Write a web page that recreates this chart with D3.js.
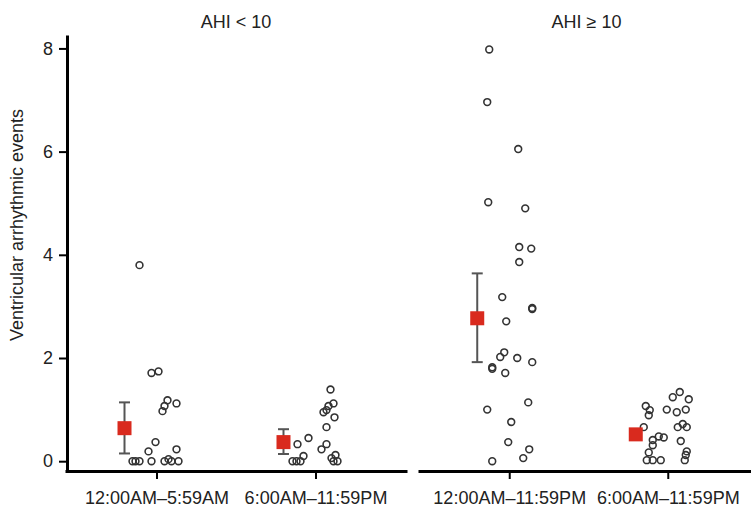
<!DOCTYPE html>
<html>
<head>
<meta charset="utf-8">
<script src="https://cdn.jsdelivr.net/npm/d3@7"></script>
<style>
    body { margin: 0; background: #fff; }
    #chart text { font-family: "Liberation Sans", Arial, Helvetica, sans-serif; fill: #222; }
</style>
</head>
<body>
<div id="chart"></div>
<script>
// panel titles and x categories
var panelTitles = ["AHI < 10", "AHI \u2265 10"];
var lowAhiPeriods = ["12:00AM\u20135:59AM", "6:00AM\u201311:59PM"];
var highAhiPeriods = ["12:00AM\u201311:59PM", "6:00AM\u201311:59PM"];
var yTicks = [0, 2, 4, 6, 8];

// individual subjects (events) and their horizontal jitter (-1..1)
var lowNightEvents = [3.80, 1.71, 1.74, 1.18, 1.12, 1.07, 0.97, 0.37, 0.19, 0.23, 0, 0, 0, 0, 0, 0.04, 0, 0];
var lowNightJitter = [-0.68, -0.2, 0.08, 0.44, 0.8, 0.32, 0.24, -0.04, -0.32, 0.8, -0.96, -0.84, -0.68, -0.2, 0.32, 0.48, 0.6, 0.88];

var lowDayEvents = [1.39, 1.12, 0.99, 1.07, 0.95, 0.85, 0.66, 0.45, 0.33, 0.33, 0.23, 0, 0, 0, 0.10, 0.06, 0.12, 0, 0];
var lowDayJitter = [0.6, 0.72, 0.44, 0.52, 0.32, 0.76, 0.44, -0.28, -0.72, 0.44, 0.24, -0.92, -0.76, -0.6, -0.48, 0.64, 0.8, 0.88, 0.72];

var highNightEvents = [7.98, 6.96, 6.05, 5.02, 4.90, 4.15, 4.12, 3.86, 3.18, 2.97, 2.95, 2.71, 2.11, 2.02, 2.00, 1.92, 1.82, 1.79, 1.71, 1.14, 1.00, 0.76, 0.37, 0.23, 0.06, 0];
var highNightJitter = [-0.8, -0.88, 0.36, -0.84, 0.64, 0.4, 0.88, 0.4, -0.28, 0.92, 0.92, -0.12, -0.2, -0.36, 0.32, 0.92, -0.68, -0.68, -0.16, 0.76, -0.88, 0.08, -0.04, 0.8, 0.56, -0.68];

var highDayEvents = [1.34, 1.24, 1.20, 1.07, 0.99, 1.00, 0.95, 1.00, 0.89, 0.66, 0.72, 0.66, 0.66, 0.48, 0.46, 0.41, 0.39, 0.31, 0.17, 0.19, 0.12, 0.02, 0.02, 0.02, 0.02];
var highDayJitter = [0.48, 0.2, 0.84, -0.88, -0.72, -0.04, 0.36, 0.72, -0.76, 0.4, 0.6, 0.76, -0.96, -0.36, -0.16, -0.6, 0.52, -0.6, -0.76, 0.76, 0.72, -0.84, -0.6, -0.28, 0.68];

// mean and error bar per group (in order of the panels)
var groupMeans = [0.64, 0.37, 2.77, 0.52];
var groupErrLow = [0.15, 0.14, 1.92, 0.42];
var groupErrHigh = [1.14, 0.62, 3.64, 0.62];

class ventricularEventsChart {

    constructor() {
        const data = this.prepareData();
        this.generateChart('chart', data);
    }

    prepareData() {
        var events = [lowNightEvents, lowDayEvents, highNightEvents, highDayEvents];
        var jitter = [lowNightJitter, lowDayJitter, highNightJitter, highDayJitter];
        var periods = lowAhiPeriods.concat(highAhiPeriods);
        return periods.map(function (p, i) {
            return {
                panel: i < 2 ? 0 : 1,
                period: p,
                mean: groupMeans[i],
                lo: groupErrLow[i],
                hi: groupErrHigh[i],
                points: events[i].map(function (v, j) { return { value: v, jitter: jitter[i][j] }; })
            };
        });
    }

    generateChart(id, data) {

        var width = 751,
            height = 508;

        var red = "#d92a1e";
        var dark = "#333";
        var meanShift = -32;   // mean marker sits left of the cloud

        var svg = d3.select("#" + id)
            .append('svg')
            .attr('width', width)
            .attr('height', height);

        var y = d3.scaleLinear()
            .domain([-0.19, 8.26])
            .range([471, 35]);

        var jit = d3.scaleLinear()
            .domain([-1, 1])
            .range([-25, 25]);

        // two panels, each with its own x scale
        var panelRanges = [[65, 407], [418, 759]];
        var xScales = [
            d3.scalePoint().domain(lowAhiPeriods).range(panelRanges[0]).padding(0.5755),
            d3.scalePoint().domain(highAhiPeriods).range(panelRanges[1]).padding(0.5755)
        ];

        // y axis
        var yAxis = svg.append('g')
            .attr('transform', 'translate(67,0)')
            .call(d3.axisLeft(y).tickValues(yTicks).tickSize(8).tickSizeOuter(0).tickPadding(6));
        yAxis.select('.domain').attr('stroke', '#000').attr('stroke-width', 3);
        yAxis.selectAll('.tick line').attr('stroke', '#000').attr('stroke-width', 2);
        yAxis.selectAll('.tick text').style('font-size', '18px').attr('fill', '#222');

        svg.append('text')
            .attr('transform', 'translate(23,225) rotate(-90)')
            .attr('text-anchor', 'middle')
            .style('font-size', '18px')
            .text('Ventricular arrhythmic events');

        xScales.forEach(function (x, k) {
            var ax = svg.append('g')
                .attr('transform', 'translate(0,471)')
                .call(d3.axisBottom(x).tickSize(8).tickSizeOuter(0).tickPadding(12));
            ax.select('.domain').attr('stroke', '#000').attr('stroke-width', 3);
            ax.selectAll('.tick line').attr('stroke', '#000').attr('stroke-width', 2);
            ax.selectAll('.tick text').style('font-size', '18px').attr('fill', '#222');

            svg.append('text')
                .attr('x', (panelRanges[k][0] + panelRanges[k][1]) / 2 - (k === 1 ? 2 : 0))
                .attr('y', 28)
                .attr('text-anchor', 'middle')
                .style('font-size', '18px')
                .text(panelTitles[k]);
        });

        var groups = svg.selectAll('.group')
            .data(data)
            .enter().append('g')
            .attr('class', 'group')
            .attr('transform', d => 'translate(' + xScales[d.panel](d.period) + ',0)');

        // jittered subjects
        groups.selectAll('circle')
            .data(d => d.points)
            .enter().append('circle')
            .attr('cx', d => jit(d.jitter))
            .attr('cy', d => y(d.value))
            .attr('r', 3.4)
            .attr('fill', 'none')
            .attr('stroke', dark)
            .attr('stroke-width', 1.6);

        // error bars
        groups.append('line')
            .attr('x1', meanShift).attr('x2', meanShift)
            .attr('y1', d => y(d.lo)).attr('y2', d => y(d.hi))
            .attr('stroke', '#555').attr('stroke-width', 2);
        ['lo', 'hi'].forEach(function (key) {
            groups.append('line')
                .attr('x1', meanShift - 5.5).attr('x2', meanShift + 5.5)
                .attr('y1', d => y(d[key])).attr('y2', d => y(d[key]))
                .attr('stroke', '#555').attr('stroke-width', 2);
        });

        // mean markers
        groups.append('rect')
            .attr('x', meanShift - 7)
            .attr('y', d => y(d.mean) - 7)
            .attr('width', 14)
            .attr('height', 14)
            .attr('fill', red);
    }
}

new ventricularEventsChart();
</script>
</body>
</html>
